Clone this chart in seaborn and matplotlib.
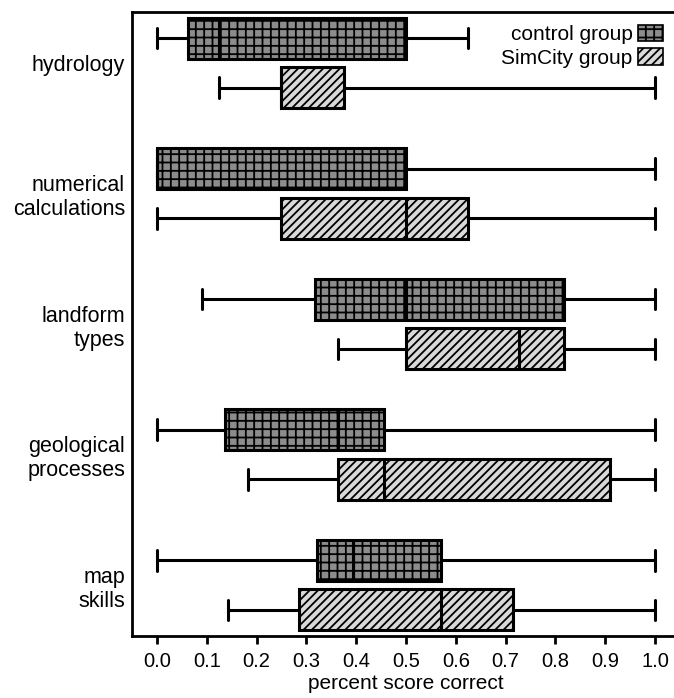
import numpy as np
import pandas as pd
import matplotlib
matplotlib.use("Agg")
import matplotlib.pyplot as plt
from matplotlib.patches import Patch
import seaborn as sns

# ---- data (five-number summaries) ----
topics = ["hydrology", "numerical\ncalculations", "landform\ntypes",
          "geological\nprocesses", "map\nskills"]
groups = ["control group", "SimCity group"]

control_min = [0.0, 0.0, 0.0909, 0.0, 0.0]
control_q1 = [0.0625, 0.0, 0.318, 0.136, 0.321]
control_med = [0.125, 0.0, 0.5, 0.364, 0.393]
control_q3 = [0.5, 0.5, 0.818, 0.455, 0.571]
control_max = [0.625, 1.0, 1.0, 1.0, 1.0]

sim_min = [0.125, 0.0, 0.364, 0.182, 0.143]
sim_q1 = [0.25, 0.25, 0.5, 0.364, 0.286]
sim_med = [0.25, 0.5, 0.727, 0.455, 0.571]
sim_q3 = [0.375, 0.625, 0.818, 0.909, 0.714]
sim_max = [1.0, 1.0, 1.0, 1.0, 1.0]

xticks = [0.0, 0.1, 0.2, 0.3, 0.4, 0.5, 0.6, 0.7, 0.8, 0.9, 1.0]
xlabel = "percent score correct"

# build a long table: with 5 points the 0/25/50/75/100 percentiles
# are exactly the five-number summary
rows = []
summaries = {
    "control group": [control_min, control_q1, control_med, control_q3, control_max],
    "SimCity group": [sim_min, sim_q1, sim_med, sim_q3, sim_max],
}
for g in groups:
    cols = summaries[g]
    for i, t in enumerate(topics):
        for c in cols:
            rows.append({"topic": t, "group": g, "score": c[i]})
df = pd.DataFrame(rows)

# ---- style ----
sns.set_style("ticks")
plt.rcParams["font.family"] = ["Liberation Sans", "DejaVu Sans"]
plt.rcParams["hatch.linewidth"] = 1.3
plt.rcParams["text.color"] = "black"
plt.rcParams["axes.labelcolor"] = "black"
plt.rcParams["xtick.color"] = "black"
plt.rcParams["ytick.color"] = "black"

control_color = "#8c8c8c"
sim_color = "#d9d9d9"

fig = plt.figure(figsize=(6.74, 6.98), dpi=100)
ax = fig.add_axes([132 / 674, 1 - 636 / 698, 548 / 674, 624 / 698])

sns.boxplot(data=df, x="score", y="topic", hue="group", order=topics,
            hue_order=groups, orient="h", whis=(0, 100),
            palette={"control group": control_color, "SimCity group": sim_color},
            saturation=1, width=0.76, gap=0.17, linecolor="black",
            linewidth=2.2, fliersize=0, legend=False, ax=ax)

for p in ax.patches:
    fc = p.get_facecolor()
    if abs(fc[0] - matplotlib.colors.to_rgba(control_color)[0]) < 0.02:
        p.set_hatch("++")
    else:
        p.set_hatch("////")
    p.set_edgecolor("black")

ax.set_xlim(-0.05, 1.05)
ax.set_ylim(4.39, -0.39)
ax.set_xticks(xticks)
ax.set_xticklabels([f"{v:.1f}" for v in xticks])
ax.set_xlabel(xlabel, fontsize=15, labelpad=2, color="black")
ax.set_ylabel("")

ax.tick_params(axis="x", labelsize=14.5, length=6, width=2, direction="out",
               pad=5.5, colors="black")
ax.tick_params(axis="y", labelsize=15.5, length=0, pad=5, colors="black")

for side in ["left", "bottom", "top", "right"]:
    ax.spines[side].set_visible(True)
    ax.spines[side].set_linewidth(2)
    ax.spines[side].set_color("black")

handles = [
    Patch(facecolor=control_color, edgecolor="black", hatch="++", linewidth=1.2),
    Patch(facecolor=sim_color, edgecolor="black", hatch="////", linewidth=1.2),
]
ax.legend(handles, groups, loc="upper right", bbox_to_anchor=(0.9726, 0.983),
          frameon=False, markerfirst=False, fontsize=15, handlelength=1.2,
          handleheight=0.85, handletextpad=0.25, labelspacing=0.2,
          borderaxespad=0.0, borderpad=0.1)

fig.savefig("out.png", dpi=100)
